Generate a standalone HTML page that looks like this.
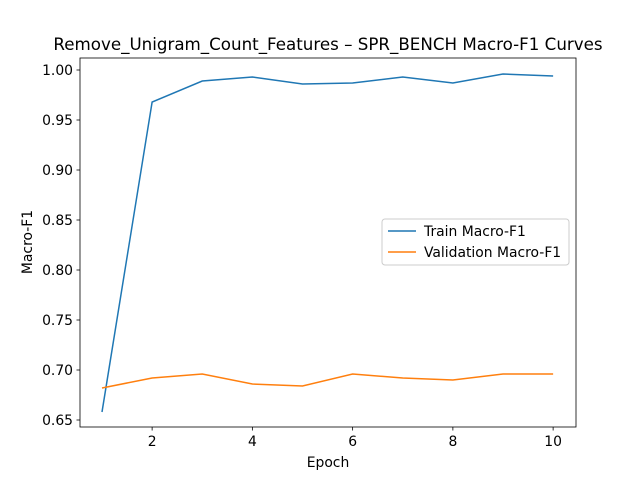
<!DOCTYPE html>
<html><head><meta charset="utf-8"><style>
body{margin:0;background:#fff;}
svg{font-family:"DejaVu Sans","Liberation Sans",sans-serif;}
</style></head><body>
<svg id="chart" width="640" height="480">
<rect width="640" height="480" fill="#fff"/>
<text x="328" y="50" font-size="16.7" text-anchor="middle">Remove_Unigram_Count_Features – SPR_BENCH Macro-F1 Curves</text>
<g id="axes"></g>
<g id="series"></g>
<rect x="80" y="58" width="496" height="369" fill="none" stroke="#000" stroke-width="0.8"/>
<text x="328" y="467" font-size="13.9" text-anchor="middle">Epoch</text>
<text x="32" y="242" font-size="13.9" text-anchor="middle" transform="rotate(-90 32 242)">Macro-F1</text>
<g>
<rect x="382" y="219" width="187" height="46" rx="3" fill="#fff" stroke="#ccc"/>
<line x1="388" y1="231" x2="416" y2="231" stroke="#1f77b4" stroke-width="1.5"/>
<text x="424" y="236" font-size="13.9">Train Macro-F1</text>
<line x1="388" y1="252" x2="416" y2="252" stroke="#ff7f0e" stroke-width="1.5"/>
<text x="424" y="257" font-size="13.9">Validation Macro-F1</text>
</g>
</svg>
<script>
const epochs=[1,2,3,4,5,6,7,8,9,10];
const trainF1=[0.658,0.968,0.989,0.993,0.986,0.987,0.993,0.987,0.996,0.994];
const valF1=[0.682,0.692,0.696,0.686,0.684,0.696,0.692,0.690,0.696,0.696];
const xTicks=[2,4,6,8,10];
const yTicks=["0.65","0.70","0.75","0.80","0.85","0.90","0.95","1.00"];
const NS="http://www.w3.org/2000/svg";
function xs(e){return 102+(e-1)*50.125;}
function ys(v){return 70+(1-v)*1000;}
const axes=document.getElementById('axes');
function mk(tag,attrs,parent){const el=document.createElementNS(NS,tag);for(const k in attrs)el.setAttribute(k,attrs[k]);parent.appendChild(el);return el;}
xTicks.forEach(t=>{
 const g=mk('g',{},axes);
 
 
 mk('line',{x1:xs(t),x2:xs(t),y1:427,y2:430.5,stroke:'#000','stroke-width':0.8},g);
 const tx=mk('text',{x:xs(t),y:446,'font-size':13.9,'text-anchor':'middle'},g);tx.textContent=t;
});
yTicks.forEach(t=>{
 const v=parseFloat(t);
 const g=mk('g',{},axes);
 
 
 mk('line',{x1:76.5,x2:80,y1:ys(v),y2:ys(v),stroke:'#000','stroke-width':0.8},g);
 const tx=mk('text',{x:73,y:ys(v)+5,'font-size':13.9,'text-anchor':'end'},g);tx.textContent=t;
});
const series=document.getElementById('series');
function line(vals,color,name){
 const p=mk('polyline',{points:vals.map((v,i)=>xs(epochs[i])+','+ys(v)).join(' '),fill:'none',stroke:color,'stroke-width':1.5},series);
 
 
}
line(trainF1,'#1f77b4','train-line');
line(valF1,'#ff7f0e','validation-line');
</script>
</body></html>
